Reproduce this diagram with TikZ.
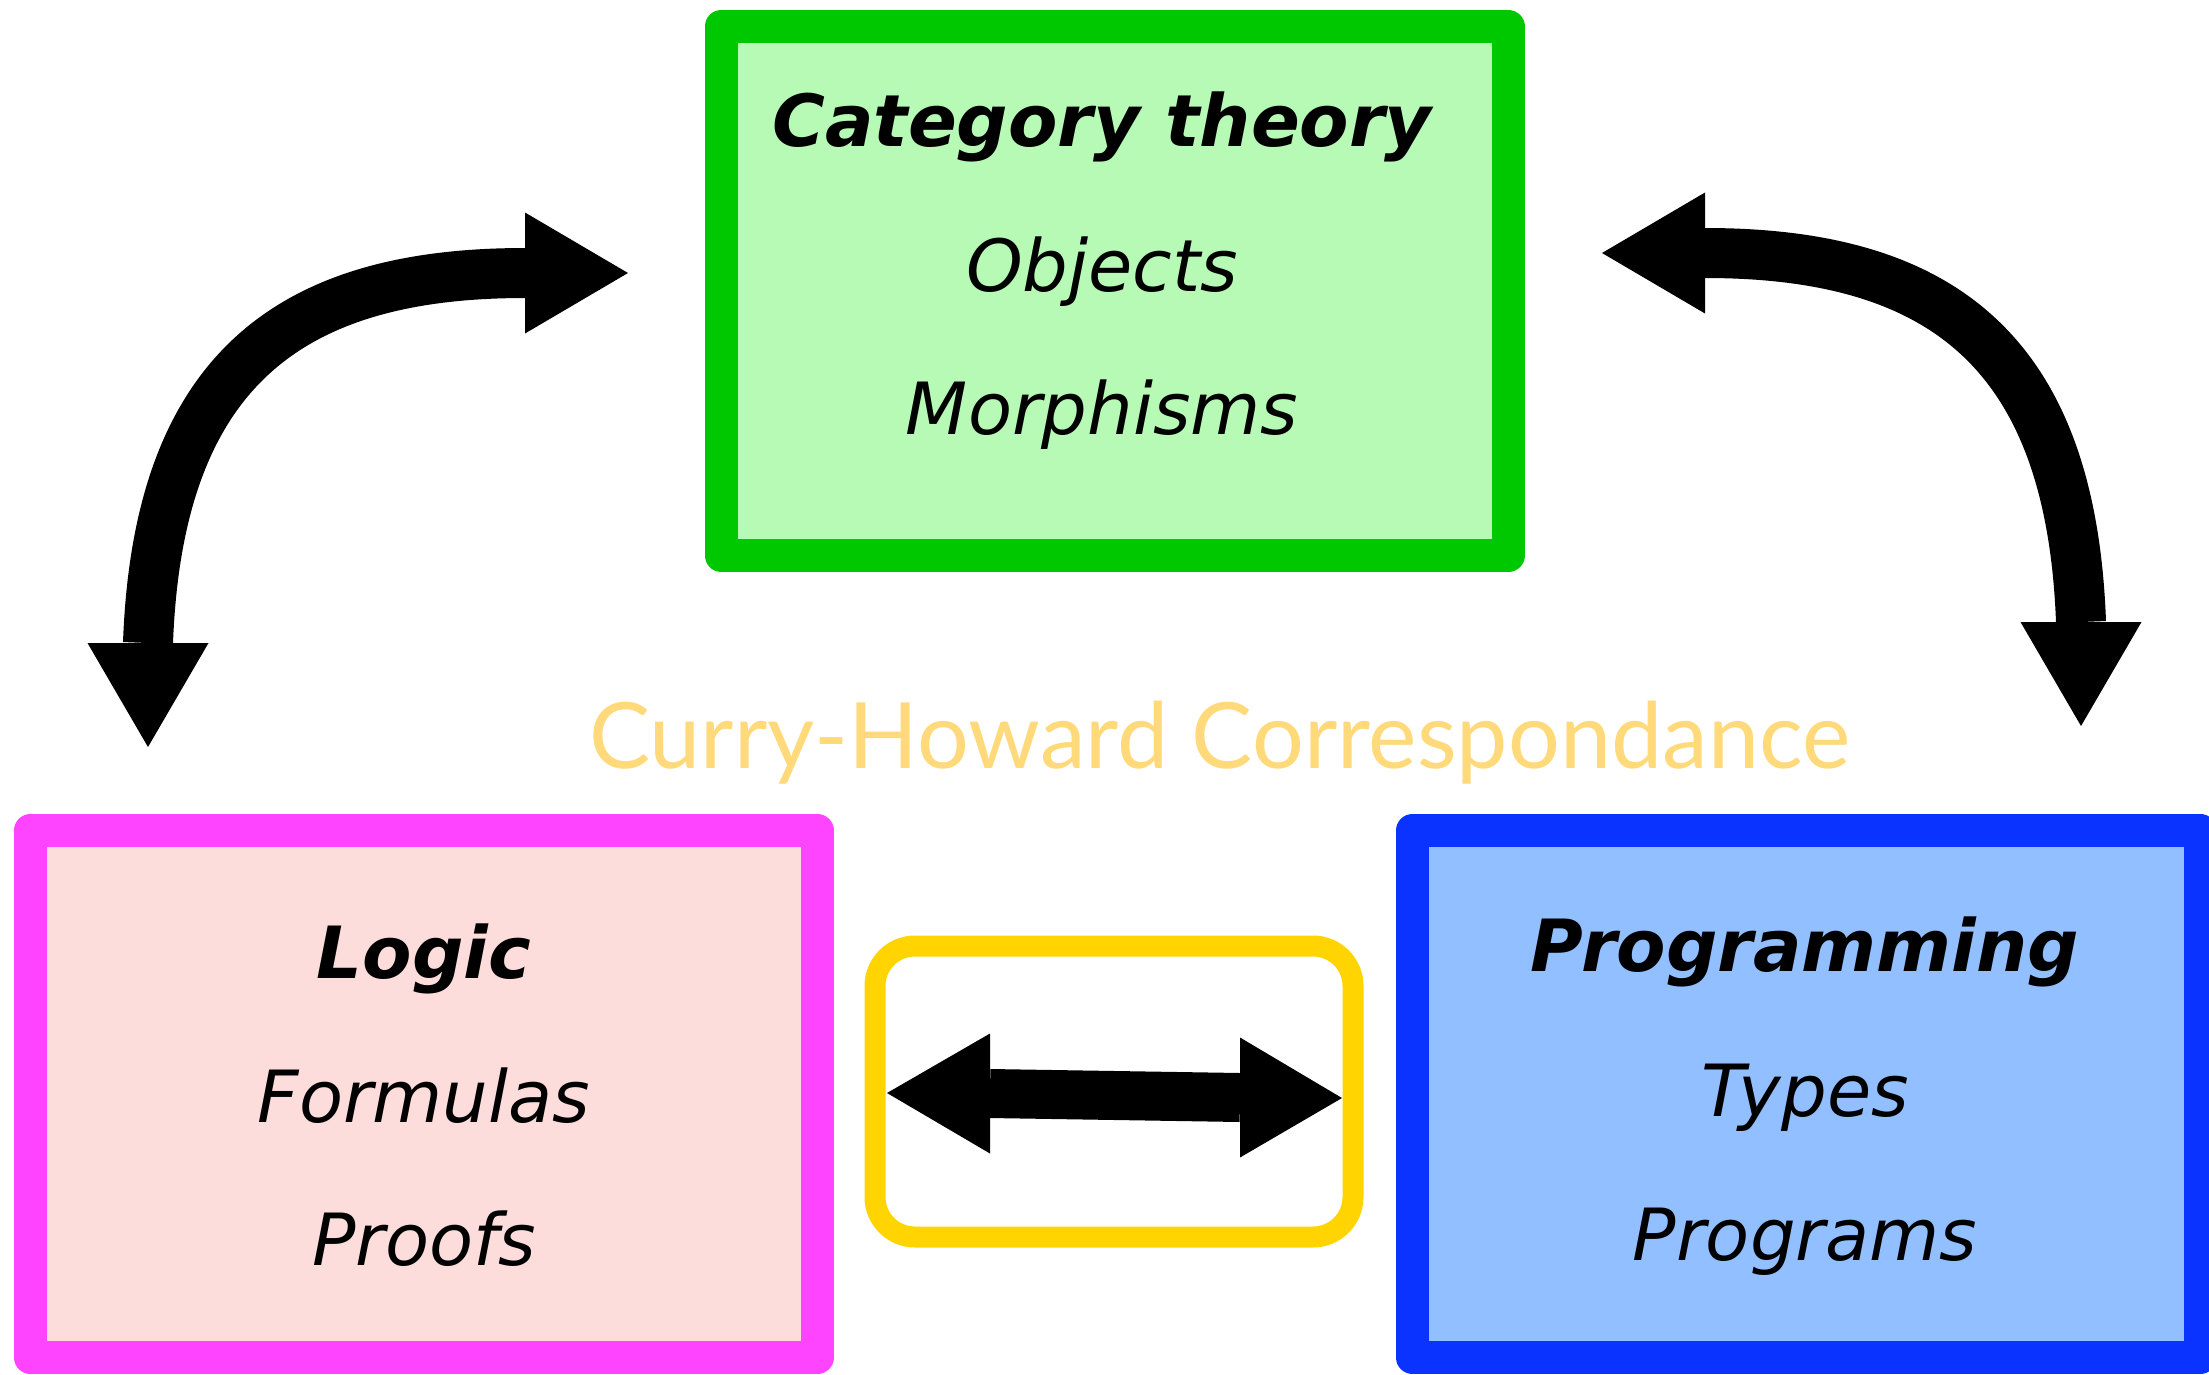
\documentclass[tikz,border=0pt]{standalone}
\usepackage{graphicx}
\usepackage{fontspec}
\setmainfont{DejaVu Sans}[ItalicFont={DejaVu Sans Oblique},BoldFont={DejaVu Sans Bold},BoldItalicFont={DejaVu Sans Bold Oblique}]
\newfontfamily\titlefont{Lato}
\usetikzlibrary{calc}
\definecolor{catborder}{HTML}{00C800}
\definecolor{catfill}{HTML}{B6FAB6}
\definecolor{logborder}{HTML}{FF44FF}
\definecolor{logfill}{HTML}{FDDCDC}
\definecolor{progborder}{HTML}{0A33FF}
\definecolor{progfill}{HTML}{91BFFF}
\definecolor{chborder}{HTML}{FFD400}
\definecolor{titlecol}{HTML}{FFD97A}
\begin{document}
\begin{tikzpicture}[x=1pt,y=-1pt,
  bigbox/.style={line width=33pt, line join=round, inner sep=0pt},
  lbl/.style={anchor=base, inner sep=0pt, font=\fontsize{72}{86}\selectfont\itshape},
  hdr/.style={anchor=base, inner sep=0pt, font=\fontsize{72}{86}\selectfont\bfseries\itshape},
  shaft/.style={line width=50pt, line cap=butt}]
\useasboundingbox (0,0) rectangle (2209,1374);

% boxes
\node[bigbox, draw=catborder, fill=catfill, minimum width=787pt, minimum height=529pt] (cat) at (1114.5,291) {};
\node[bigbox, draw=logborder, fill=logfill, minimum width=786.5pt, minimum height=527pt] (logic) at (423.75,1094) {};
\node[bigbox, draw=progborder, fill=progfill, minimum width=787.5pt, minimum height=527pt] (prog) at (1806.25,1094) {};
\node[draw=chborder, line width=21pt, rounded corners=40pt, minimum width=478pt, minimum height=291pt, inner sep=0pt] (corr) at (1114,1091.5) {};

% texts
\node[hdr] (catT) at (1102,146.5) {Category theory};
\node[lbl] (obj) at (1102,291) {Objects};
\node[lbl] (mor) at (1102,434) {Morphisms};
\node[hdr] (logT) at (424,978.5) {Logic};
\node[lbl] (form) at (424,1122) {Formulas};
\node[lbl] (proof) at (424,1265) {Proofs};
\node[hdr] (progT) at (1805,971) {Programming};
\node[lbl] (types) at (1805,1116) {Types};
\node[lbl] (progs) at (1805,1260) {Programs};
\node[anchor=base west, inner sep=0pt, text=titlecol] (title) at (589,768)
  {\resizebox{1261pt}{!}{\titlefont\fontsize{95}{110}\selectfont Curry-Howard Correspondance}};

% left curved double arrow
\coordinate (a1s) at (525,273);
\coordinate (a1e) at (148,643);
\coordinate (a1st) at (628,273);
\coordinate (a1et) at (148,747);
\draw[shaft] (a1s) .. controls (290,273) and (158,370) .. (a1e);
\fill (a1st) -- ($(a1s)+(0,-60.5)$) -- ($(a1s)+(0,60.5)$) -- cycle;
\fill (a1et) -- ($(a1e)+(-60.5,0)$) -- ($(a1e)+(60.5,0)$) -- cycle;

% right curved double arrow
\coordinate (a2s) at (1705,253);
\coordinate (a2e) at (2081,622);
\coordinate (a2st) at (1602,253);
\coordinate (a2et) at (2081,726);
\draw[shaft] (a2s) .. controls (1940,253) and (2071,350) .. (a2e);
\fill (a2st) -- ($(a2s)+(0,-60.5)$) -- ($(a2s)+(0,60.5)$) -- cycle;
\fill (a2et) -- ($(a2e)+(-60.5,0)$) -- ($(a2e)+(60.5,0)$) -- cycle;

% straight double arrow inside the yellow box
\coordinate (a3s) at (990,1093.5);
\coordinate (a3e) at (1240,1097.5);
\coordinate (a3st) at (887,1093);
\coordinate (a3et) at (1342,1098);
\draw[line width=49pt, line cap=butt] (a3s) -- (a3e);
\fill (a3st) -- ($(a3s)+(0,-60)$) -- ($(a3s)+(0,60)$) -- cycle;
\fill (a3et) -- ($(a3e)+(0,-60)$) -- ($(a3e)+(0,60)$) -- cycle;
\end{tikzpicture}
\end{document}
